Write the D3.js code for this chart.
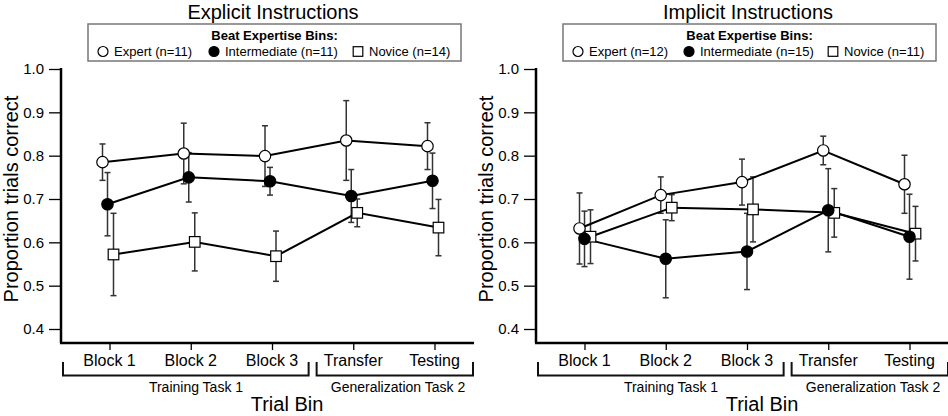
<!DOCTYPE html>
<html>
<head>
<meta charset="utf-8">
<script src="https://cdn.jsdelivr.net/npm/d3@7"></script>
<style>
  body { margin: 0; background: #fff; }
  svg { display: block; font-family: "Liberation Sans", Arial, Helvetica, sans-serif; }
</style>
</head>
<body>
<div id="chart"></div>
<script>
// categories / groups
const categories = ["Block 1", "Block 2", "Block 3", "Transfer", "Testing"];
const groups = ["Expert", "Intermediate", "Novice"];
const yTicks = [0.4, 0.5, 0.6, 0.7, 0.8, 0.9, 1.0];

// Explicit Instructions
const explicitN = [11, 11, 14];
const explicitExpert = [0.785, 0.805, 0.799, 0.835, 0.822];
const explicitExpertErr = [0.042, 0.070, 0.070, 0.092, 0.054];
const explicitInter = [0.688, 0.750, 0.741, 0.707, 0.742];
const explicitInterErr = [0.073, 0.057, 0.032, 0.061, 0.064];
const explicitNovice = [0.572, 0.601, 0.568, 0.668, 0.634];
const explicitNoviceErr = [0.095, 0.067, 0.058, 0.032, 0.065];

// Implicit Instructions
const implicitN = [12, 15, 11];
const implicitExpert = [0.632, 0.709, 0.739, 0.812, 0.734];
const implicitExpertErr = [0.082, 0.042, 0.053, 0.033, 0.067];
const implicitInter = [0.608, 0.562, 0.579, 0.674, 0.613];
const implicitInterErr = [0.064, 0.090, 0.088, 0.096, 0.098];
const implicitNovice = [0.613, 0.680, 0.676, 0.668, 0.620];
const implicitNoviceErr = [0.062, 0.030, 0.075, 0.056, 0.063];

const W = 948, H = 416;
const svg = d3.select("#chart").append("svg")
  .attr("width", W).attr("height", H);

drawPanel({
  x0: 61, title: "Explicit Instructions", n: explicitN,
  offsets: [-7, -2, 4],
  series: [
    { vals: explicitExpert, err: explicitExpertErr },
    { vals: explicitInter, err: explicitInterErr },
    { vals: explicitNovice, err: explicitNoviceErr }
  ]
});
drawPanel({
  x0: 536, title: "Implicit Instructions", n: implicitN,
  offsets: [-5, 0, 6],
  series: [
    { vals: implicitExpert, err: implicitExpertErr },
    { vals: implicitInter, err: implicitInterErr },
    { vals: implicitNovice, err: implicitNoviceErr }
  ]
});

function marker(sel, i, size) {
  // i: 0 open circle, 1 filled circle, 2 open square
  if (i === 2) {
    sel.append("rect")
      .attr("x", -size).attr("y", -size)
      .attr("width", size * 2).attr("height", size * 2)
      .attr("fill", "#fff").attr("stroke", "#000").attr("stroke-width", 1.2);
  } else {
    sel.append("circle").attr("r", size)
      .attr("fill", i === 1 ? "#000" : "#fff")
      .attr("stroke", "#000").attr("stroke-width", 1.2);
  }
}

function drawPanel(p) {
  const g = svg.append("g").attr("transform", `translate(${p.x0},0)`);

  const x = d3.scalePoint().domain(categories).range([48.5, 373.5]);
  const y = d3.scaleLinear().domain([0.4, 1.0]).range([329, 69]);
  const yBottom = 343;

  // title
  g.append("text").attr("x", 212).attr("y", 19)
    .attr("text-anchor", "middle").attr("font-size", 20)
    .text(p.title);

  // legend
  const lg = g.append("g").attr("transform", "translate(27,24)");
  lg.append("rect").attr("width", 373).attr("height", 37)
    .attr("fill", "#fff").attr("stroke", "#777").attr("stroke-width", 1.5);
  lg.append("text").attr("x", 186.5).attr("y", 15.5)
    .attr("text-anchor", "middle").attr("font-size", 13).attr("font-weight", "bold")
    .text("Beat Expertise Bins:");
  const itemX = [15, 126, 270];
  groups.forEach((name, i) => {
    const it = lg.append("g").attr("transform", `translate(${itemX[i]},27.5)`);
    marker(it, i, i === 2 ? 4.8 : 5);
    it.append("text").attr("x", 11).attr("y", 4.7).attr("font-size", 13)
      .text(`${name} (n=${p.n[i]})`);
  });

  // y axis
  const yAxis = g.append("g")
    .call(d3.axisLeft(y).tickValues(yTicks).tickFormat(d3.format(".1f"))
      .tickSize(12).tickPadding(5));
  yAxis.select(".domain").remove();
  yAxis.selectAll(".tick line").attr("stroke-width", 1.3);
  yAxis.selectAll(".tick text").attr("font-size", 15).attr("fill", "#000")
    .attr("font-family", "Liberation Sans, Arial, sans-serif");
  g.append("line").attr("x1", 0).attr("x2", 0).attr("y1", y(1.0) - 1).attr("y2", yBottom)
    .attr("stroke", "#000").attr("stroke-width", 2.5);

  g.append("text")
    .attr("transform", `translate(-43,${(y(0.4) + y(1.0)) / 2}) rotate(-90)`)
    .attr("text-anchor", "middle").attr("font-size", 20)
    .text("Proportion trials correct");

  // x axis
  const xAxis = g.append("g").attr("transform", `translate(0,${yBottom})`)
    .call(d3.axisBottom(x).tickSize(7).tickFormat(""));
  xAxis.select(".domain").remove();
  xAxis.selectAll(".tick line").attr("stroke-width", 1.3);
  g.append("line").attr("x1", -1).attr("x2", 413).attr("y1", yBottom).attr("y2", yBottom)
    .attr("stroke", "#000").attr("stroke-width", 2.5);

  g.selectAll(".cat").data(categories).enter().append("text")
    .attr("class", "cat")
    .attr("x", d => x(d)).attr("y", 366)
    .attr("text-anchor", "middle").attr("font-size", 16)
    .text(d => d);

  // brackets
  const mid = (x("Block 3") + x("Transfer")) / 2;
  const brackets = [
    { a: 2, b: mid - 4, label: "Training Task 1", cx: 135 },
    { a: mid + 4, b: 412, label: "Generalization Task 2", cx: 337 }
  ];
  brackets.forEach(br => {
    g.append("path")
      .attr("d", `M${br.a},362V375.5H${br.b}V362`)
      .attr("fill", "none").attr("stroke", "#111").attr("stroke-width", 2);
    g.append("text").attr("x", br.cx).attr("y", 391.5)
      .attr("text-anchor", "middle").attr("font-size", 14)
      .text(br.label);
  });

  g.append("text").attr("x", 226).attr("y", 411)
    .attr("text-anchor", "middle").attr("font-size", 20)
    .text("Trial Bin");

  // data
  const pts = p.series.map((s, i) => categories.map((c, j) => ({
    x: x(c) + p.offsets[i], v: s.vals[j], e: s.err[j]
  })));

  // error bars
  pts.forEach(ser => {
    ser.forEach(d => {
      const eb = g.append("g").attr("stroke", "#333").attr("stroke-width", 1.5);
      eb.append("line").attr("x1", d.x).attr("x2", d.x)
        .attr("y1", y(d.v - d.e)).attr("y2", y(d.v + d.e));
      [d.v - d.e, d.v + d.e].forEach(v => {
        eb.append("line").attr("x1", d.x - 3).attr("x2", d.x + 3)
          .attr("y1", y(v)).attr("y2", y(v));
      });
    });
  });

  // lines
  const line = d3.line().x(d => d.x).y(d => y(d.v));
  pts.forEach(ser => {
    g.append("path").datum(ser).attr("d", line)
      .attr("fill", "none").attr("stroke", "#000").attr("stroke-width", 2);
  });

  // markers (expert, novice, intermediate on top)
  [0, 2, 1].forEach(i => {
    pts[i].forEach(d => {
      const m = g.append("g").attr("transform", `translate(${d.x},${y(d.v)})`);
      marker(m, i, i === 2 ? 5.3 : 5.7);
    });
  });
}
</script>
</body>
</html>
